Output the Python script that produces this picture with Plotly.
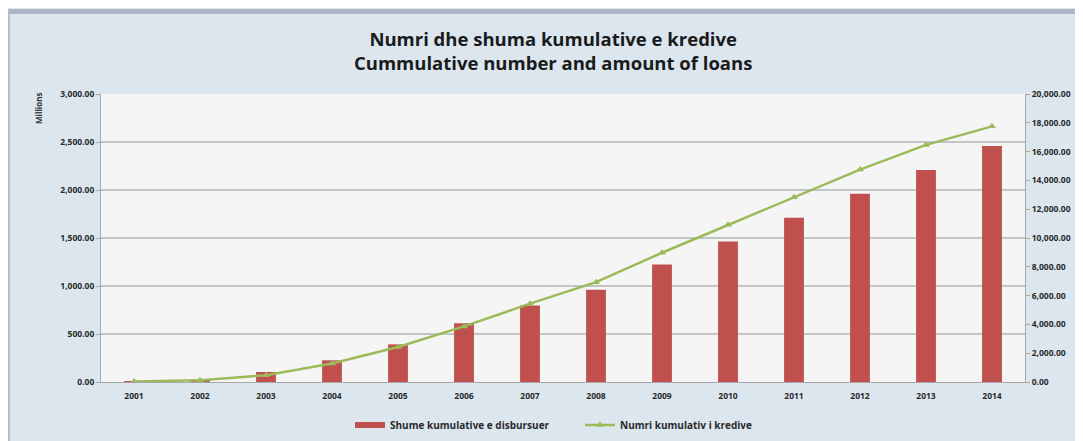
import plotly.graph_objects as go

years = ["2001", "2002", "2003", "2004", "2005", "2006", "2007",
         "2008", "2009", "2010", "2011", "2012", "2013", "2014"]
amount_millions = [8, 25, 104, 226, 392, 612, 797, 961, 1224, 1464, 1710, 1960, 2209, 2459]
loan_count = [40, 130, 470, 1280, 2430, 3860, 5440, 6935, 8975, 10915, 12830, 14750, 16465, 17755]
left_ticks = [0, 500, 1000, 1500, 2000, 2500, 3000]
right_ticks = [0, 2000, 4000, 6000, 8000, 10000, 12000, 14000, 16000, 18000, 20000]

# page is rendered with an 8px body margin, so figure coords = page coords - 8
OFF = 8
PAGE_W, PAGE_H = 1083, 441
W, H = PAGE_W - OFF, PAGE_H - OFF
PL, PT, PR, PB = 101, 94, 1025, 382  # plot box in page pixels
L, T = PL - OFF, PT - OFF
R, B = W - (PR - OFF), H - (PB - OFF)
pw, ph = W - L - R, H - T - B

def px(x):  # page x -> paper fraction
    return (x - OFF - L) / pw

def py(y):  # page y -> paper fraction
    return (H - B - (y - OFF)) / ph

font_family = "Open Sans, Lato, sans-serif"
tick_font = dict(family=font_family, size=8.5, color="#2a2a2a", weight="bold")

RED = "#c0504d"
GREEN = "#9bbb59"

fig = go.Figure()
fig.add_trace(go.Bar(
    x=years, y=amount_millions, name="Shume kumulative e disbursuer", showlegend=False,
    marker=dict(color=RED, line=dict(width=0)), width=0.3, yaxis="y"))
# legend proxy: Excel-style wide red swatch
fig.add_trace(go.Scatter(
    x=[None], y=[None], name="Shume kumulative e disbursuer", mode="lines",
    line=dict(color=RED, width=6), yaxis="y"))
fig.add_trace(go.Scatter(
    x=years, y=loan_count, name="Numri kumulativ i kredive", mode="lines+markers",
    line=dict(color=GREEN, width=2.5),
    marker=dict(symbol="triangle-up", size=7, color=GREEN), yaxis="y2"))

fig.update_layout(
    width=W, height=H,
    margin=dict(l=L, r=R, t=T, b=B, autoexpand=False),
    paper_bgcolor="#dbe6ef", plot_bgcolor="#f5f5f5",
    font=dict(family=font_family),
    showlegend=True,
    legend=dict(orientation="h", x=px(580), xanchor="center", y=py(425), yanchor="middle",
                font=dict(family=font_family, size=10, color="#2a2a2a", weight="bold"),
                bgcolor="rgba(0,0,0,0)", itemwidth=30, tracegroupgap=0,
                entrywidth=185, entrywidthmode="pixels"),
    bargap=0.7,
    xaxis=dict(type="category", range=[-0.5, 13.5], showgrid=False, showline=True,
               linecolor="#a8a8a8", linewidth=1, ticks="", tickfont=tick_font,
               ticklabelstandoff=6, zeroline=False, automargin=False),
    yaxis=dict(range=[0, 3000], tickvals=left_ticks, tickformat=",.2f",
               showgrid=True, gridcolor="#c4c4c8", gridwidth=2, showline=True,
               linecolor="#a8a8a8", ticks="outside", ticklen=4, tickcolor="#a8a8a8",
               tickfont=tick_font, zeroline=False, automargin=False),
    yaxis2=dict(range=[0, 20000], tickvals=right_ticks, tickformat=",.2f",
                overlaying="y", side="right", showgrid=False, showline=True,
                linecolor="#a8a8a8", ticks="outside", ticklen=4, tickcolor="#a8a8a8",
                tickfont=tick_font, zeroline=False, automargin=False),
)

# grey outer frame strip at top, darker band at top of blue panel
fig.add_shape(type="rect", xref="paper", yref="paper", layer="below",
              x0=px(0), x1=px(PAGE_W + 10), y0=py(0), y1=py(9), fillcolor="#e6e6e6", line_width=0)
fig.add_shape(type="rect", xref="paper", yref="paper", layer="below",
              x0=px(7), x1=px(PAGE_W + 10), y0=py(9), y1=py(14), fillcolor="#a9b6c8", line_width=0)
fig.add_shape(type="rect", xref="paper", yref="paper", layer="below",
              x0=px(7), x1=px(10), y0=py(9), y1=py(PAGE_H + 10), fillcolor="#b3c0d0", line_width=0)

fig.add_annotation(text="<b>Numri dhe shuma kumulative e kredive<br>Cummulative number and amount of loans</b>",
                   xref="paper", yref="paper", x=px(553), y=py(50), xanchor="center", yanchor="middle",
                   showarrow=False, align="center",
                   font=dict(family=font_family, size=18.5, color="#1a1a1a"))
fig.add_annotation(text="<b>Millions</b>", xref="paper", yref="paper", x=px(38), y=py(108),
                   textangle=-90, showarrow=False, xanchor="center", yanchor="middle",
                   font=dict(family=font_family, size=8, color="#333333"))

fig.write_html("out.html")
